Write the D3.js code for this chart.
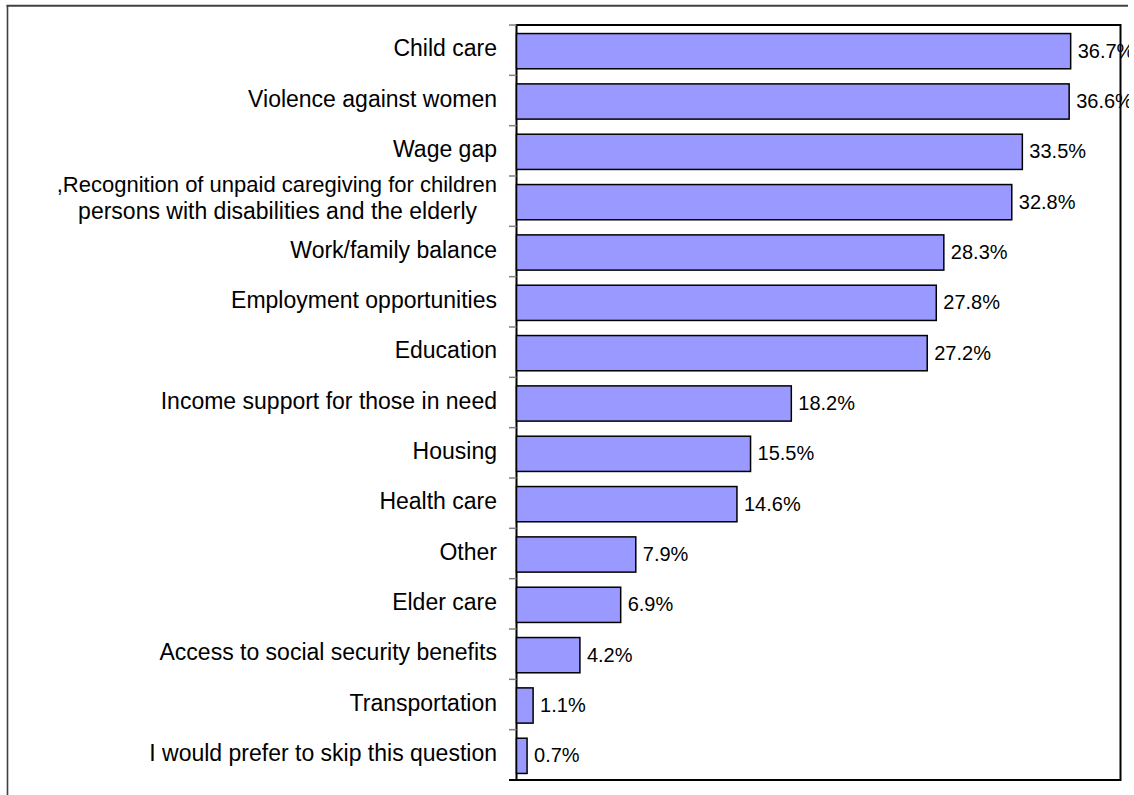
<!DOCTYPE html>
<html>
<head>
<meta charset="utf-8">
<script src="https://cdn.jsdelivr.net/npm/d3@7"></script>
<style>
  html, body { margin: 0; padding: 0; background: #fff; }
  svg { display: block; }
  text { font-family: "Liberation Sans", Arial, sans-serif; fill: #000; }
</style>
</head>
<body>
<svg id="chart" width="1134" height="795"></svg>
<script>
// ---- data ----
const categories = [
  "Child care",
  "Violence against women",
  "Wage gap",
  ",Recognition of unpaid caregiving for children|persons with disabilities and the elderly",
  "Work/family balance",
  "Employment opportunities",
  "Education",
  "Income support for those in need",
  "Housing",
  "Health care",
  "Other",
  "Elder care",
  "Access to social security benefits",
  "Transportation",
  "I would prefer to skip this question"
];
const values = [36.7, 36.6, 33.5, 32.8, 28.3, 27.8, 27.2, 18.2, 15.5, 14.6, 7.9, 6.9, 4.2, 1.1, 0.7];
const valueLabels = ["36.7%", "36.6%", "33.5%", "32.8%", "28.3%", "27.8%", "27.2%", "18.2%", "15.5%", "14.6%", "7.9%", "6.9%", "4.2%", "1.1%", "0.7%"];
const xDomain = [0, 40];

// ---- layout ----
const svg = d3.select("#chart");
const plot = { left: 516.5, right: 1120.5, top: 25, bottom: 780 };

svg.append("defs").append("clipPath").attr("id", "clip")
  .append("rect").attr("x", 0).attr("y", 0).attr("width", 1129).attr("height", 795);
const root = svg.append("g").attr("clip-path", "url(#clip)");

// outer frame (top + left visible)
root.append("line").attr("x1", 6.5).attr("x2", 1128).attr("y1", 5.8).attr("y2", 5.8)
  .attr("stroke", "#404040").attr("stroke-width", 2);
root.append("line").attr("x1", 7.5).attr("x2", 7.5).attr("y1", 5).attr("y2", 795)
  .attr("stroke", "#404040").attr("stroke-width", 1.6);

const x = d3.scaleLinear().domain(xDomain).range([plot.left, plot.right]);
const y = d3.scaleBand().domain(d3.range(categories.length))
  .range([plot.top, plot.bottom]).paddingInner(0.3).paddingOuter(0.15);

// plot frame
root.append("rect")
  .attr("x", plot.left).attr("y", plot.top)
  .attr("width", plot.right - plot.left).attr("height", plot.bottom - plot.top)
  .attr("fill", "none").attr("stroke", "#000").attr("stroke-width", 2);

// ticks on category axis (band boundaries)
const step = (plot.bottom - plot.top) / categories.length;
const boundaries = d3.range(categories.length + 1).map(i => plot.top + i * step);
root.append("g").selectAll("line").data(boundaries).join("line")
  .attr("x1", plot.left - 7.5).attr("x2", plot.left)
  .attr("y1", d => d).attr("y2", d => d)
  .attr("stroke", (d, i) => i === categories.length ? "#000" : "#808080")
  .attr("stroke-width", (d, i) => i === categories.length ? 2 : 1.5);

// bars
root.append("g").selectAll("rect").data(values).join("rect")
  .attr("x", x(0))
  .attr("y", (d, i) => y(i) + 1)
  .attr("width", d => x(d) - x(0))
  .attr("height", y.bandwidth())
  .attr("fill", "#9999FF")
  .attr("stroke", "#000")
  .attr("stroke-width", 1.5);

// value labels
root.append("g").selectAll("text").data(values).join("text")
  .attr("x", d => x(d) + 7)
  .attr("y", (d, i) => plot.top + (i + 0.5) * step + 7.5)
  .attr("font-size", 20)
  .text((d, i) => valueLabels[i]);

// category labels
const labelX = 497;
const cg = root.append("g");
categories.forEach((c, i) => {
  const cy = plot.top + (i + 0.5) * step;
  const parts = c.split("|");
  if (parts.length === 1) {
    cg.append("text").attr("x", labelX).attr("y", cy + 6)
      .attr("text-anchor", "end").attr("font-size", 23).text(c);
  } else {
    cg.append("text").attr("x", labelX).attr("y", cy - 9.5)
      .attr("text-anchor", "end").attr("font-size", 22).text(parts[0]);
    cg.append("text").attr("x", labelX - 20).attr("y", cy + 18)
      .attr("text-anchor", "end").attr("font-size", 23).text(parts[1]);
  }
});
</script>
</body>
</html>
